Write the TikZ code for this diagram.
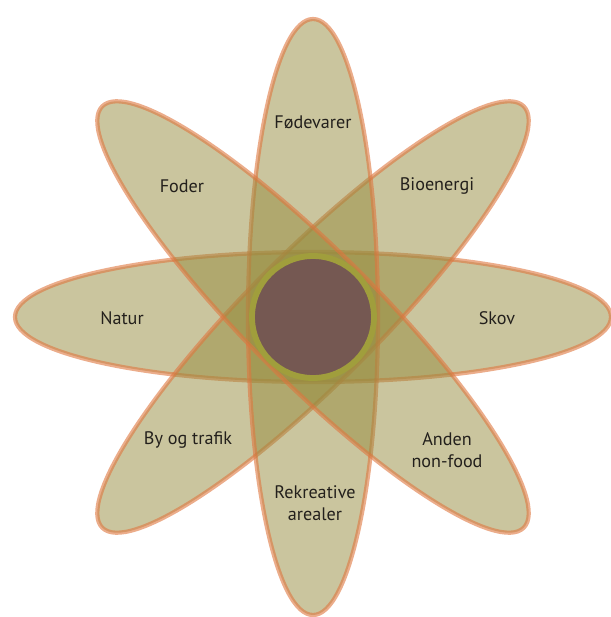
\documentclass[tikz,border=0pt]{standalone}
\usepackage{fontspec}
\setmainfont{PT Sans}
\usepackage{xcolor}
\usepackage{tikz}
\usetikzlibrary{positioning}
\definecolor{petalfill}{RGB}{150,140,62}
\definecolor{petaledge}{RGB}{222,118,62}
\definecolor{coreinner}{RGB}{117,88,82}
\definecolor{corering}{RGB}{160,158,60}
\definecolor{labeltext}{RGB}{35,32,28}

\begin{document}
\begin{tikzpicture}[x=0.03cm,y=-0.03cm,
          petal/.style={fill=petalfill,fill opacity=0.5,draw=petaledge,
                        draw opacity=0.6,line width=3.6pt},
          core/.style={circle,fill=coreinner,draw=corering,line width=5pt,
                       minimum size=3.66cm,inner sep=0pt},
          lbl/.style={font=\fontsize{15.5}{19}\selectfont,text=labeltext,
                      align=center,inner sep=1pt}]
        \useasboundingbox (0,0) rectangle (610,617);
        % petals
        \foreach \a in {0,45,90,135}
          \draw[petal,rotate around={\a:(313,317)}]
            (313,317) ellipse [x radius=298, y radius=65];
        % centre
        \node[core] (centre) at (313,317) {};
        % labels
        \node[lbl] (foed) at (313,122) {Fødevarer};
        \node[lbl] (bio)  at (437,186) {Bioenergi};
        \node[lbl] (skov) at (497,318) {Skov};
        \node[lbl] (anden) at (447,450) {Anden\\non-food};
        \node[lbl] (rekr) at (315,503) {Rekreative\\arealer};
        \node[lbl] (by)   at (188,440) {By og trafik};
        \node[lbl] (natur) at (122,318) {Natur};
        \node[lbl] (foder) at (182,186) {Foder};
      \end{tikzpicture}
\end{document}
